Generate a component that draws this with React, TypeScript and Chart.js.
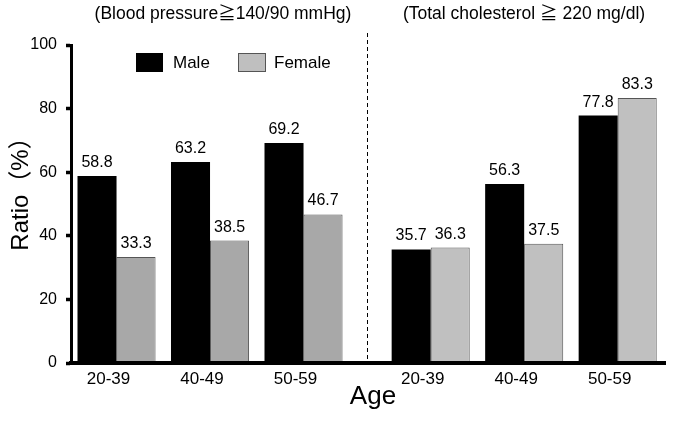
import React, { useEffect, useRef } from "react";
import { Chart, registerables } from "chart.js";

Chart.register(...registerables);

const ageGroups = ["20-39", "40-49", "50-59"];
const panelTitles = ["(Blood pressure≧140/90 mmHg)", "(Total cholesterol ≧ 220 mg/dl)"];
const seriesNames = ["Male", "Female"];
const maleBloodPressure = [58.8, 63.2, 69.2];
const femaleBloodPressure = [33.3, 38.5, 46.7];
const maleCholesterol = [35.7, 56.3, 77.8];
const femaleCholesterol = [36.3, 37.5, 83.3];
const yTickValues = [0, 20, 40, 60, 80, 100];
const yTitle = "Ratio（%）";
const xTitle = "Age";

const FONT = "'Liberation Sans', Arial, 'Noto Sans CJK JP', sans-serif";
const PANEL_GAP = 0.36;
const MALE_COLOR = "#000000";
const FEMALE_COLORS = ["#a8a8a8", "#c0c0c0"];
const FEMALE_LEGEND = "#bfbfbf";
const FEMALE_BORDER = "#555555";

const n = ageGroups.length;
const xPositions: number[] = [];
const xLabels: string[] = [];
for (let p = 0; p < 2; p++) {
  for (let i = 0; i < n; i++) {
    xPositions.push(p * (n + PANEL_GAP) + i);
    xLabels.push(ageGroups[i]);
  }
}
const maleValues = [...maleBloodPressure, ...maleCholesterol];
const femaleValues = [...femaleBloodPressure, ...femaleCholesterol];
const dividerValue = (xPositions[n - 1] + xPositions[n]) / 2;

const overlayPlugin = {
  id: "overlay",
  afterDraw(chart: any) {
    const ctx = chart.ctx;
    const area = chart.chartArea;
    const xs = chart.scales.x;
    ctx.save();
    // value labels
    ctx.fillStyle = "#000";
    ctx.font = `16px ${FONT}`;
    ctx.textAlign = "center";
    ctx.textBaseline = "alphabetic";
    chart.data.datasets.forEach((ds: any, di: number) => {
      const meta = chart.getDatasetMeta(di);
      meta.data.forEach((el: any, i: number) => {
        const v = ds.data[i].y;
        ctx.fillText(v.toFixed(1), el.x, el.y - 9);
      });
    });
    // divider
    const dx = Math.round(xs.getPixelForValue(dividerValue)) + 0.5;
    ctx.strokeStyle = "#000";
    ctx.lineWidth = 1;
    ctx.setLineDash([4, 3]);
    ctx.beginPath();
    ctx.moveTo(dx, 33);
    ctx.lineTo(dx, area.bottom);
    ctx.stroke();
    ctx.setLineDash([]);
    // panel titles
    ctx.font = `17.5px ${FONT}`;
    ctx.textBaseline = "middle";
    ctx.fillText(panelTitles[0], 223, 14);
    ctx.fillText(panelTitles[1], 524, 14);
    // legend
    ctx.fillStyle = MALE_COLOR;
    ctx.fillRect(136, 53, 27, 19);
    ctx.fillStyle = FEMALE_LEGEND;
    ctx.fillRect(238, 53, 28, 19);
    ctx.strokeStyle = FEMALE_BORDER;
    ctx.strokeRect(238.5, 53.5, 27, 18);
    ctx.fillStyle = "#000";
    ctx.font = `17px ${FONT}`;
    ctx.textAlign = "left";
    ctx.fillText(seriesNames[0], 173, 63);
    ctx.fillText(seriesNames[1], 274, 63);
    // axis titles
    ctx.textAlign = "center";
    ctx.font = `26px ${FONT}`;
    ctx.fillText(xTitle, 373, 397);
    ctx.translate(21, 188);
    ctx.rotate(-Math.PI / 2);
    ctx.font = `24px ${FONT}`;
    ctx.fillText(yTitle, 0, 0);
    ctx.restore();
  },
};

export default function App() {
  const ref = useRef<HTMLCanvasElement | null>(null);
  useEffect(() => {
    document.body.style.margin = "0";
    const canvas = ref.current;
    if (!canvas) return;
    const chart = new Chart(canvas, {
      type: "bar",
      data: {
        datasets: [
          {
            label: seriesNames[0],
            data: xPositions.map((x, i) => ({ x, y: maleValues[i] })),
            backgroundColor: MALE_COLOR,
            borderWidth: 0,
          },
          {
            label: seriesNames[1],
            data: xPositions.map((x, i) => ({ x, y: femaleValues[i] })),
            backgroundColor: xPositions.map((_, i) => FEMALE_COLORS[i < n ? 0 : 1]),
            borderColor: FEMALE_BORDER,
            borderWidth: 1,
          },
        ] as any,
      },
      options: {
        animation: false,
        responsive: false,
        categoryPercentage: 0.835,
        barPercentage: 1,
        layout: { padding: { top: 45, right: 20, left: 0, bottom: 0 } },
        plugins: { legend: { display: false }, tooltip: { enabled: false } },
        scales: {
          x: {
            type: "linear",
            offset: false,
            min: xPositions[0] - 0.487,
            max: xPositions[xPositions.length - 1] + 0.506,
            afterBuildTicks: (s: any) => {
              s.ticks = xPositions.map((v) => ({ value: v }));
            },
            afterFit: (s: any) => {
              s.height = 58;
            },
            grid: { display: false, drawTicks: false },
            border: { display: true, width: 4, color: "#000", z: 1 },
            ticks: {
              autoSkip: false,
              maxRotation: 0,
              padding: 6,
              labelOffset: -8,
              color: "#000",
              font: { size: 17, family: FONT },
              callback: (_v: any, i: number) => xLabels[i],
            },
          },
          y: {
            min: 0,
            max: 100,
            afterBuildTicks: (s: any) => {
              s.ticks = yTickValues.map((v) => ({ value: v }));
            },
            afterFit: (s: any) => {
              s.width = 71;
            },
            grid: {
              display: true,
              drawOnChartArea: false,
              drawTicks: true,
              tickLength: 5,
              tickWidth: 3.5,
              tickColor: "#000",
            },
            border: { display: true, width: 3, color: "#000", z: 1 },
            ticks: {
              padding: 9,
              color: "#000",
              font: { size: 16, family: FONT },
            },
          },
        },
      } as any,
      plugins: [overlayPlugin],
    });
    return () => chart.destroy();
  }, []);
  return <canvas ref={ref} width={685} height={421} style={{ display: "block" }} />;
}
